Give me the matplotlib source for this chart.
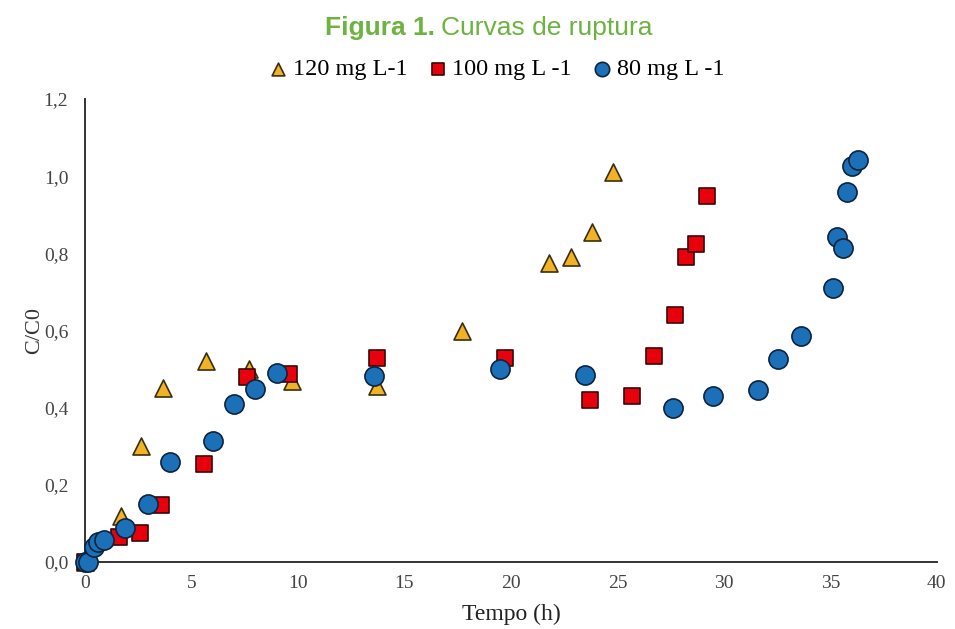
import matplotlib
matplotlib.use("Agg")
import matplotlib.pyplot as plt
from matplotlib.ticker import FuncFormatter

# Data
t120 = [0.0, 1.7, 2.65, 3.65, 5.7, 7.7, 9.7, 13.7, 17.7, 21.8, 22.8, 23.8, 24.8]
c120 = [0.0, 0.12, 0.30, 0.45, 0.52, 0.50, 0.47, 0.455, 0.60, 0.775, 0.79, 0.855, 1.01]

t100 = [0.0, 1.6, 2.6, 3.55, 5.6, 7.6, 9.6, 13.7, 19.7, 23.7, 25.7, 26.7, 27.7, 28.2, 28.7, 29.2]
c100 = [0.0, 0.065, 0.075, 0.148, 0.254, 0.48, 0.487, 0.53, 0.528, 0.42, 0.43, 0.535, 0.64, 0.79, 0.825, 0.95]

t80 = [0.0, 0.15, 0.4, 0.6, 0.9, 1.9, 2.95, 4.0, 6.0, 7.0, 8.0, 9.0, 13.55, 19.5, 23.5, 27.6,
       29.5, 31.6, 32.55, 33.6, 35.1, 35.3, 35.6, 35.8, 36.0, 36.3]
c80 = [0.0, 0.0, 0.04, 0.052, 0.057, 0.088, 0.15, 0.26, 0.314, 0.41, 0.448, 0.49, 0.482, 0.50, 0.485, 0.40,
       0.43, 0.446, 0.526, 0.586, 0.71, 0.843, 0.814, 0.959, 1.026, 1.042]

labels = ["120 mg L-1", "100 mg L -1", "80 mg L -1"]
xticks = [0, 5, 10, 15, 20, 25, 30, 35, 40]
yticks = [0.0, 0.2, 0.4, 0.6, 0.8, 1.0, 1.2]

serif = ["Liberation Serif", "DejaVu Serif"]
sans = ["Liberation Sans", "DejaVu Sans"]

fig = plt.figure(figsize=(9.55, 6.29), dpi=100)
ax = fig.add_axes([0.089, 0.1065, 0.892, 0.736])

ax.scatter(t120, c120, marker="^", s=150, c="#f1b325", edgecolors="#3a2e10", linewidths=1.2,
           label=labels[0], zorder=3, clip_on=False)
ax.scatter(t100, c100, marker="s", s=120, c="#e8000d", edgecolors="#3a0505", linewidths=1.2,
           label=labels[1], zorder=4, clip_on=False)
ax.scatter(t80, c80, marker="o", s=190, c="#1c70b8", edgecolors="#0c2440", linewidths=1.2,
           label=labels[2], zorder=5, clip_on=False)

ax.set_xlim(0, 40)
ax.set_ylim(0, 1.2)
ax.set_xticks(xticks)
ax.set_yticks(yticks)
ax.yaxis.set_major_formatter(FuncFormatter(lambda v, p: f"{v:.1f}".replace(".", ",")))
ax.tick_params(axis="both", length=0, labelsize=14, colors="#444444")
ax.tick_params(axis="x", pad=9)
ax.tick_params(axis="y", pad=12)
for lab in ax.get_xticklabels() + ax.get_yticklabels():
    lab.set_family(serif)

for side in ["top", "right"]:
    ax.spines[side].set_visible(False)
for side in ["left", "bottom"]:
    ax.spines[side].set_color("#333333")
    ax.spines[side].set_linewidth(1.4)

ax.set_xlabel("Tempo (h)", family=serif, fontsize=17, color="#222222", labelpad=9)
ax.set_ylabel("C/C0", family=serif, fontsize=16, color="#333333", labelpad=0)

leg = ax.legend(loc="lower center", bbox_to_anchor=(0.483, 1.02), ncol=3, frameon=False,
                prop={"family": serif, "size": 17.5}, handlelength=0.8, handletextpad=0.2,
                columnspacing=0.85, markerscale=0.75, borderaxespad=0)

fig.text(0.456, 0.955, "Figura 1.", ha="right", va="center", fontsize=19, fontweight="bold",
         color="#6cb33f", family=sans)
fig.text(0.462, 0.955, "Curvas de ruptura", ha="left", va="center", fontsize=19,
         color="#6cb33f", family=sans)

fig.savefig("out.png", dpi=100)
